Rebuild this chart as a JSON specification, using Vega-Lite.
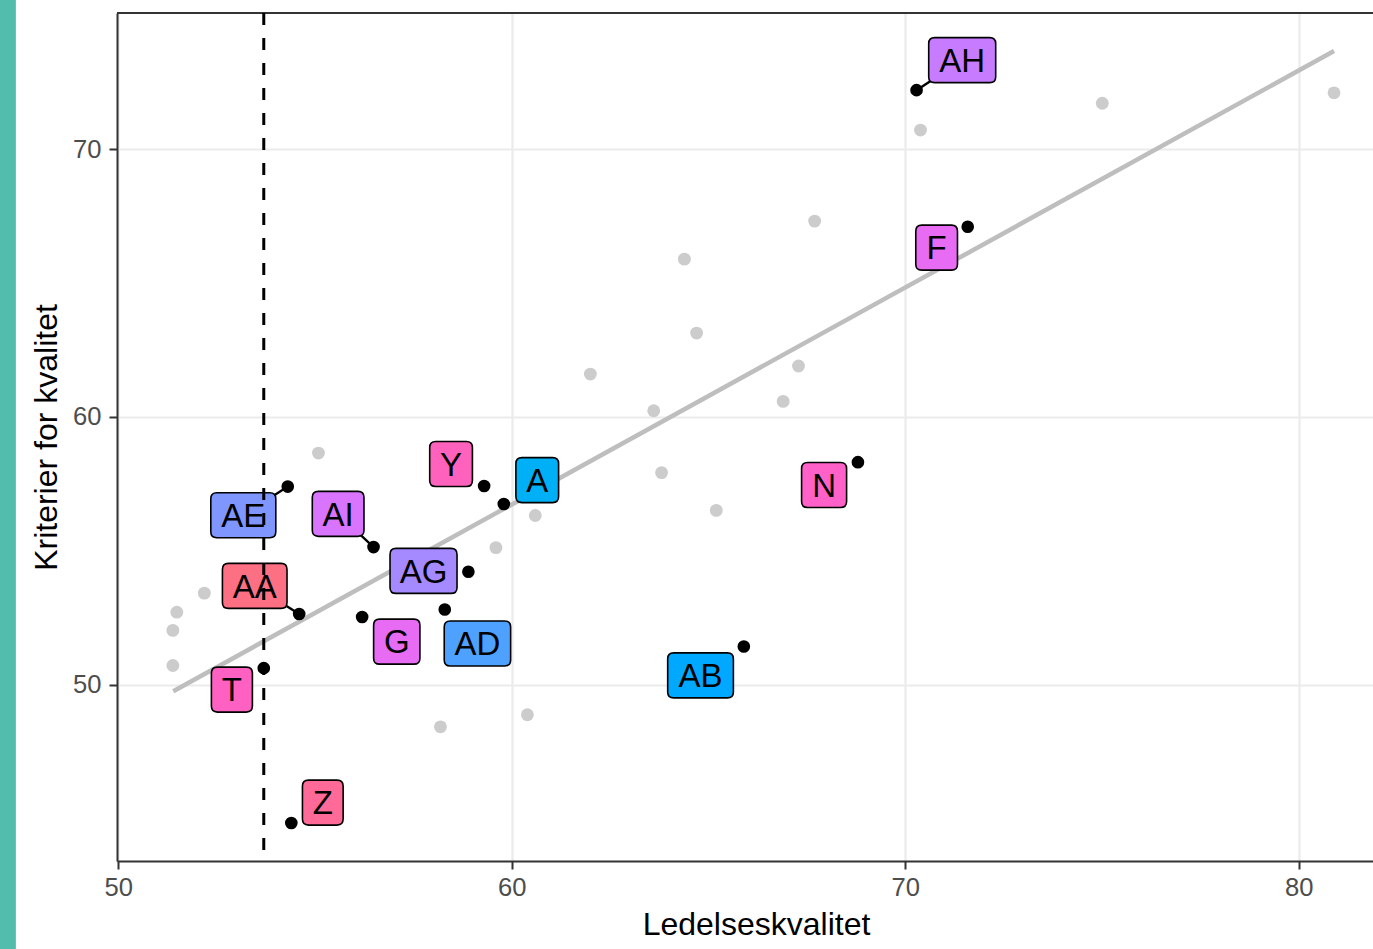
{
  "$schema": "https://vega.github.io/schema/vega-lite/v6.json",
  "width": 1256,
  "height": 848,
  "autosize": {"type": "none"},
  "padding": {"left": 117, "top": 13, "right": 0, "bottom": 88},
  "background": "white",
  "config": {
    "view": {"stroke": null},
    "font": "Liberation Sans",
    "axis": {
      "grid": true,
      "domainColor": "#333333",
      "domainWidth": 2,
      "tickColor": "#333333",
      "tickWidth": 2,
      "tickSize": 8,
      "gridColor": "#ebebeb",
      "gridWidth": 2.2,
      "labelFont": "Liberation Sans",
      "labelFontSize": 25.6,
      "labelColor": "#4d4d4d",
      "labelFlush": false,
      "titleFont": "Liberation Sans",
      "titleFontSize": 32,
      "titleFontWeight": "normal",
      "titleColor": "#000000"
    }
  },
  "datasets": {
    "andre": [
      {"ledelse": 51.49, "kvalitet": 52.71},
      {"ledelse": 51.39, "kvalitet": 52.03},
      {"ledelse": 51.39, "kvalitet": 50.72},
      {"ledelse": 52.19, "kvalitet": 53.42},
      {"ledelse": 55.09, "kvalitet": 58.65},
      {"ledelse": 58.19, "kvalitet": 48.43},
      {"ledelse": 59.60, "kvalitet": 55.12},
      {"ledelse": 60.40, "kvalitet": 48.88},
      {"ledelse": 60.60, "kvalitet": 56.32},
      {"ledelse": 62.00, "kvalitet": 61.60},
      {"ledelse": 63.61, "kvalitet": 60.23},
      {"ledelse": 63.81, "kvalitet": 57.92},
      {"ledelse": 64.39, "kvalitet": 65.89},
      {"ledelse": 64.70, "kvalitet": 63.13},
      {"ledelse": 65.20, "kvalitet": 56.51},
      {"ledelse": 66.90, "kvalitet": 60.58},
      {"ledelse": 67.29, "kvalitet": 61.90},
      {"ledelse": 67.70, "kvalitet": 67.31},
      {"ledelse": 70.39, "kvalitet": 70.71},
      {"ledelse": 75.01, "kvalitet": 71.71},
      {"ledelse": 80.90, "kvalitet": 72.10}
    ],
    "utvalgte": [
      {"enhet": "A", "ledelse": 59.80, "kvalitet": 56.75, "label_x": 60.65, "label_y": 57.64},
      {"enhet": "Y", "ledelse": 59.30, "kvalitet": 57.42, "label_x": 58.46, "label_y": 58.24},
      {"enhet": "AE", "ledelse": 54.31, "kvalitet": 57.40, "label_x": 53.18, "label_y": 56.33},
      {"enhet": "AI", "ledelse": 56.49, "kvalitet": 55.14, "label_x": 55.59, "label_y": 56.38},
      {"enhet": "AG", "ledelse": 58.90, "kvalitet": 54.22, "label_x": 57.76, "label_y": 54.25},
      {"enhet": "AA", "ledelse": 54.60, "kvalitet": 52.64, "label_x": 53.47, "label_y": 53.69},
      {"enhet": "G", "ledelse": 56.20, "kvalitet": 52.53, "label_x": 57.08, "label_y": 51.61},
      {"enhet": "AD", "ledelse": 58.30, "kvalitet": 52.81, "label_x": 59.13, "label_y": 51.54},
      {"enhet": "T", "ledelse": 53.70, "kvalitet": 50.62, "label_x": 52.89, "label_y": 49.82},
      {"enhet": "Z", "ledelse": 54.40, "kvalitet": 44.84, "label_x": 55.20, "label_y": 45.60},
      {"enhet": "AB", "ledelse": 65.90, "kvalitet": 51.43, "label_x": 64.80, "label_y": 50.35},
      {"enhet": "N", "ledelse": 68.80, "kvalitet": 58.31, "label_x": 67.94, "label_y": 57.46},
      {"enhet": "F", "ledelse": 71.59, "kvalitet": 67.10, "label_x": 70.80, "label_y": 66.32},
      {"enhet": "AH", "ledelse": 70.29, "kvalitet": 72.20, "label_x": 71.45, "label_y": 73.32}
    ],
    "fit": [
      {"ledelse": 51.40, "kvalitet": 49.76},
      {"ledelse": 80.90, "kvalitet": 73.66}
    ],
    "terskel": [
      {"ledelse": 53.70}
    ]
  },
  "layer": [
    {
      "data": {"values": [{}]},
      "mark": {"type": "rect", "color": "#52bdad", "clip": false},
      "encoding": {
        "x": {"datum": 46.9, "type": "quantitative", "scale": {"domain": [49.97, 81.89], "nice": false, "zero": false}},
        "x2": {"datum": 47.4},
        "y": {"datum": 76, "type": "quantitative", "scale": {"domain": [43.42, 75.08], "nice": false, "zero": false}},
        "y2": {"datum": 40}
      }
    },
    {
      "data": {"name": "andre"},
      "mark": {"type": "point", "filled": true, "color": "#cccccc", "size": 165, "opacity": 1},
      "encoding": {
        "x": {
          "field": "ledelse", "type": "quantitative", "title": "Ledelseskvalitet",
          "scale": {"domain": [49.97, 81.89], "nice": false, "zero": false},
          "axis": {"grid": true, "values": [50, 60, 70, 80], "labelPadding": 6, "titleX": 639, "titleY": 73, "titleBaseline": "alphabetic", "titleAlign": "center"}
        },
        "y": {
          "field": "kvalitet", "type": "quantitative", "title": "Kriterier for kvalitet",
          "scale": {"domain": [43.42, 75.08], "nice": false, "zero": false},
          "axis": {"grid": true, "values": [50, 60, 70], "labelPadding": 8, "titleX": -61, "titleY": 424, "titleAngle": 270, "titleBaseline": "alphabetic", "titleAlign": "center"}
        }
      }
    },
    {
      "data": {"values": [{}]},
      "mark": {"type": "rule", "color": "#333333", "strokeWidth": 2},
      "encoding": {
        "y": {"datum": 75.08, "type": "quantitative", "scale": {"domain": [43.42, 75.08], "nice": false, "zero": false}}
      }
    },
    {
      "data": {"name": "fit"},
      "mark": {"type": "line", "color": "#bebebe", "strokeWidth": 4.5},
      "encoding": {
        "x": {"field": "ledelse", "type": "quantitative", "title": "Ledelseskvalitet", "scale": {"domain": [49.97, 81.89], "nice": false, "zero": false}},
        "y": {"field": "kvalitet", "type": "quantitative", "title": "Kriterier for kvalitet", "scale": {"domain": [43.42, 75.08], "nice": false, "zero": false}}
      }
    },
    {
      "data": {"name": "utvalgte"},
      "transform": [{"filter": {"field": "enhet", "oneOf": ["AH", "AE", "AI", "AA"]}}],
      "mark": {"type": "rule", "color": "#000000", "strokeWidth": 2.4},
      "encoding": {
        "x": {"field": "ledelse", "type": "quantitative", "title": "Ledelseskvalitet", "scale": {"domain": [49.97, 81.89], "nice": false, "zero": false}},
        "y": {"field": "kvalitet", "type": "quantitative", "title": "Kriterier for kvalitet", "scale": {"domain": [43.42, 75.08], "nice": false, "zero": false}},
        "x2": {"field": "label_x"},
        "y2": {"field": "label_y"}
      }
    },
    {
      "data": {"name": "utvalgte"},
      "mark": {"type": "point", "filled": true, "color": "#000000", "size": 160, "opacity": 1},
      "encoding": {
        "x": {"field": "ledelse", "type": "quantitative", "title": "Ledelseskvalitet", "scale": {"domain": [49.97, 81.89], "nice": false, "zero": false}},
        "y": {"field": "kvalitet", "type": "quantitative", "title": "Kriterier for kvalitet", "scale": {"domain": [43.42, 75.08], "nice": false, "zero": false}}
      }
    },
    {
      "data": {"name": "utvalgte"},
      "mark": {"type": "point", "filled": true, "size": 10000, "stroke": "#000000", "strokeWidth": 1.6, "opacity": 1, "strokeOpacity": 1},
      "encoding": {
        "x": {"field": "label_x", "type": "quantitative", "title": "Ledelseskvalitet", "scale": {"domain": [49.97, 81.89], "nice": false, "zero": false}},
        "y": {"field": "label_y", "type": "quantitative", "title": "Kriterier for kvalitet", "scale": {"domain": [43.42, 75.08], "nice": false, "zero": false}},
        "fill": {
          "field": "enhet", "type": "nominal", "legend": null,
          "scale": {
            "domain": ["A", "Y", "AE", "AI", "AG", "AA", "G", "AD", "T", "Z", "AB", "N", "F", "AH"],
            "range": ["#00b0f6", "#ff62bc", "#7f96ff", "#d874fd", "#a58aff", "#fd6f83", "#e76bf3", "#4fa1ff", "#ff61c3", "#ff6a98", "#00a9ff", "#ff61c9", "#e76bf3", "#c77cff"]
          }
        },
        "shape": {
          "field": "enhet", "type": "nominal", "legend": null,
          "scale": {
            "domain": ["A", "Y", "AE", "AI", "AG", "AA", "G", "AD", "T", "Z", "AB", "N", "F", "AH"],
            "range": [
              "M-0.307,-0.45L0.307,-0.45Q0.427,-0.45,0.427,-0.33L0.427,0.33Q0.427,0.45,0.307,0.45L-0.307,0.45Q-0.427,0.45,-0.427,0.33L-0.427,-0.33Q-0.427,-0.45,-0.307,-0.45Z",
              "M-0.307,-0.45L0.307,-0.45Q0.427,-0.45,0.427,-0.33L0.427,0.33Q0.427,0.45,0.307,0.45L-0.307,0.45Q-0.427,0.45,-0.427,0.33L-0.427,-0.33Q-0.427,-0.45,-0.307,-0.45Z",
              "M-0.53,-0.45L0.53,-0.45Q0.65,-0.45,0.65,-0.33L0.65,0.33Q0.65,0.45,0.53,0.45L-0.53,0.45Q-0.65,0.45,-0.65,0.33L-0.65,-0.33Q-0.65,-0.45,-0.53,-0.45Z",
              "M-0.397,-0.45L0.397,-0.45Q0.517,-0.45,0.517,-0.33L0.517,0.33Q0.517,0.45,0.397,0.45L-0.397,0.45Q-0.517,0.45,-0.517,0.33L-0.517,-0.33Q-0.517,-0.45,-0.397,-0.45Z",
              "M-0.55,-0.45L0.55,-0.45Q0.67,-0.45,0.67,-0.33L0.67,0.33Q0.67,0.45,0.55,0.45L-0.55,0.45Q-0.67,0.45,-0.67,0.33L-0.67,-0.33Q-0.67,-0.45,-0.55,-0.45Z",
              "M-0.526,-0.45L0.526,-0.45Q0.646,-0.45,0.646,-0.33L0.646,0.33Q0.646,0.45,0.526,0.45L-0.526,0.45Q-0.646,0.45,-0.646,0.33L-0.646,-0.33Q-0.646,-0.45,-0.526,-0.45Z",
              "M-0.343,-0.45L0.343,-0.45Q0.463,-0.45,0.463,-0.33L0.463,0.33Q0.463,0.45,0.343,0.45L-0.343,0.45Q-0.463,0.45,-0.463,0.33L-0.463,-0.33Q-0.463,-0.45,-0.343,-0.45Z",
              "M-0.544,-0.45L0.544,-0.45Q0.664,-0.45,0.664,-0.33L0.664,0.33Q0.664,0.45,0.544,0.45L-0.544,0.45Q-0.664,0.45,-0.664,0.33L-0.664,-0.33Q-0.664,-0.45,-0.544,-0.45Z",
              "M-0.29,-0.45L0.29,-0.45Q0.41,-0.45,0.41,-0.33L0.41,0.33Q0.41,0.45,0.29,0.45L-0.29,0.45Q-0.41,0.45,-0.41,0.33L-0.41,-0.33Q-0.41,-0.45,-0.29,-0.45Z",
              "M-0.287,-0.45L0.287,-0.45Q0.407,-0.45,0.407,-0.33L0.407,0.33Q0.407,0.45,0.287,0.45L-0.287,0.45Q-0.407,0.45,-0.407,0.33L-0.407,-0.33Q-0.407,-0.45,-0.287,-0.45Z",
              "M-0.537,-0.45L0.537,-0.45Q0.657,-0.45,0.657,-0.33L0.657,0.33Q0.657,0.45,0.537,0.45L-0.537,0.45Q-0.657,0.45,-0.657,0.33L-0.657,-0.33Q-0.657,-0.45,-0.537,-0.45Z",
              "M-0.33,-0.45L0.33,-0.45Q0.45,-0.45,0.45,-0.33L0.45,0.33Q0.45,0.45,0.33,0.45L-0.33,0.45Q-0.45,0.45,-0.45,0.33L-0.45,-0.33Q-0.45,-0.45,-0.33,-0.45Z",
              "M-0.297,-0.45L0.297,-0.45Q0.417,-0.45,0.417,-0.33L0.417,0.33Q0.417,0.45,0.297,0.45L-0.297,0.45Q-0.417,0.45,-0.417,0.33L-0.417,-0.33Q-0.417,-0.45,-0.297,-0.45Z",
              "M-0.55,-0.45L0.55,-0.45Q0.67,-0.45,0.67,-0.33L0.67,0.33Q0.67,0.45,0.55,0.45L-0.55,0.45Q-0.67,0.45,-0.67,0.33L-0.67,-0.33Q-0.67,-0.45,-0.55,-0.45Z"
            ]
          }
        }
      }
    },
    {
      "data": {"name": "utvalgte"},
      "mark": {"type": "text", "font": "Liberation Sans", "fontSize": 33, "color": "#000000", "align": "center", "baseline": "alphabetic", "dy": 11.8},
      "encoding": {
        "x": {"field": "label_x", "type": "quantitative", "title": "Ledelseskvalitet", "scale": {"domain": [49.97, 81.89], "nice": false, "zero": false}},
        "y": {"field": "label_y", "type": "quantitative", "title": "Kriterier for kvalitet", "scale": {"domain": [43.42, 75.08], "nice": false, "zero": false}},
        "text": {"field": "enhet"}
      }
    },
    {
      "data": {"name": "terskel"},
      "mark": {"type": "rule", "color": "#000000", "strokeWidth": 3, "strokeDash": [12, 13]},
      "encoding": {
        "x": {"field": "ledelse", "type": "quantitative", "title": "Ledelseskvalitet", "scale": {"domain": [49.97, 81.89], "nice": false, "zero": false}}
      }
    }
  ]
}
